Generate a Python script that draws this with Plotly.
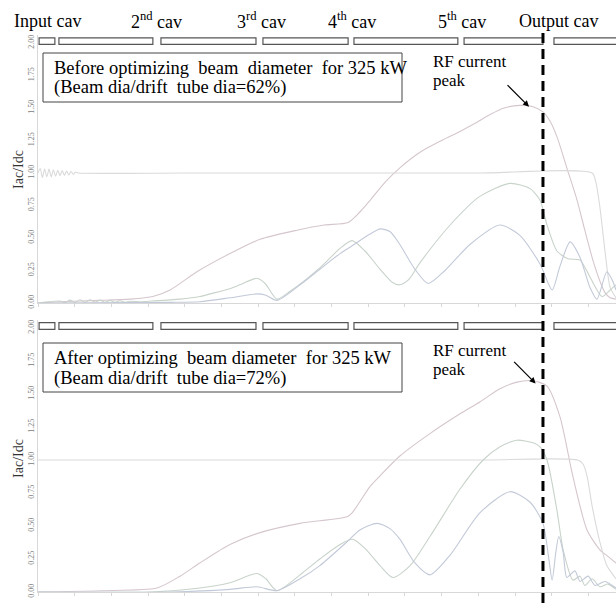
import plotly.graph_objects as go

# ---------------------------------------------------------------
# Normalised RF current Iac/Idc along the klystron interaction
# region (axial position in mm), before and after the beam
# diameter optimisation for 325 kW.
# ---------------------------------------------------------------

# --- before optimisation (beam dia / drift tube dia = 62 %) ---
pos_rf_before = [0, 6.0, 16.9, 25.1, 31.3, 36.0, 43.3, 52.3, 60.5, 70.6, 78.0, 84.5,
                 87.7, 90.5, 94.6, 98.6, 104.1, 110.0, 115.0, 119.0, 123.2, 127.0,
                 131.3, 134.9, 137.6, 139.5, 141.4, 144.1, 146.9, 149.0, 151.2,
                 153.1, 154.5, 155.9, 157.5]
rf_before = [0.0, 0.01, 0.02, 0.03, 0.05, 0.10, 0.24, 0.38, 0.49, 0.56, 0.60, 0.62,
             0.70, 0.79, 0.93, 1.04, 1.16, 1.25, 1.32, 1.38, 1.45, 1.50,
             1.52, 1.51, 1.47, 1.40, 1.28, 1.04, 0.79, 0.56, 0.33,
             0.17, 0.08, 0.04, 0.03]

pos_dc_before = [0, 0.6, 1.2, 1.8, 2.4, 3.0, 3.6, 4.2, 4.8, 5.4, 6.0, 6.6, 7.2, 7.8,
                 8.4, 9.0, 9.6, 10.2, 11.0, 40.0, 80.0, 120.0, 151.0, 152.0, 153.1,
                 154.5, 155.9, 157.5]
dc_before = [1.0, 1.035, 0.965, 1.03, 0.97, 1.03, 0.97, 1.025, 0.975, 1.02, 0.98,
             1.018, 0.982, 1.015, 0.985, 1.012, 0.99, 1.006, 1.0, 1.0, 1.0, 1.0,
             1.0, 0.93, 0.74, 0.40, 0.12, 0.04]

pos_h1_before = [0, 6.0, 7.4, 8.7, 10.1, 11.4, 12.8, 14.2, 15.5, 16.9, 18.3, 19.6,
                 21.0, 22.3, 23.7, 25.1, 28.0, 31.0, 38.7, 44.1, 46.9, 52.3, 55.0,
                 59.7, 61.9, 65.1, 68.7, 76.8, 82.3, 85.6, 89.1, 93.2, 96.5, 98.6,
                 101.0, 104.1, 112.3, 120.4, 128.6, 134.1, 136.8, 138.7, 141.4,
                 144.4, 147.7, 150.4, 153.7, 155.9, 157.5]
h1_before = [0.0, 0.015, 0.003, 0.022, 0.004, 0.025, 0.005, 0.025, 0.006, 0.022,
             0.006, 0.020, 0.006, 0.017, 0.006, 0.013, 0.010, 0.015, 0.03, 0.05,
             0.07, 0.11, 0.14, 0.19, 0.15, 0.03, 0.09, 0.27, 0.42, 0.48, 0.40,
             0.26, 0.16, 0.14, 0.18, 0.31, 0.60, 0.82, 0.92, 0.88, 0.79, 0.60,
             0.40, 0.34, 0.33, 0.20, 0.05, 0.10, 0.14]

pos_h2_before = [0, 25.0, 36.0, 44.1, 52.3, 59.7, 62.1, 65.1, 71.4, 76.8, 82.3, 85.6,
                 90.5, 93.3, 95.9, 98.6, 102.7, 106.3, 110.9, 117.7, 125.9, 131.3,
                 136.8, 140.1, 142.2, 145.0, 147.7, 150.4, 152.3, 155.0, 156.4,
                 157.5]
h2_before = [0.0, 0.003, 0.005, 0.01, 0.04, 0.07, 0.06, 0.02, 0.14, 0.26, 0.38, 0.44,
             0.53, 0.57, 0.55, 0.45, 0.26, 0.15, 0.25, 0.45, 0.60, 0.52,
             0.30, 0.10, 0.28, 0.47, 0.35, 0.12, 0.03, 0.24, 0.18, 0.10]

# --- after optimisation (beam dia / drift tube dia = 72 %) ---
pos_rf_after = [0, 16.9, 32.4, 38.7, 44.1, 52.3, 60.5, 71.4, 84.2, 85.6, 90.5, 93.2,
                98.6, 106.8, 115.0, 120.4, 125.9, 130.5, 134.9, 138.7, 142.2,
                145.8, 149.6, 153.1, 155.3, 157.5]
rf_after = [0.0, 0.01, 0.03, 0.12, 0.22, 0.36, 0.45, 0.52, 0.57, 0.60, 0.80, 0.88,
            1.03, 1.20, 1.35, 1.44, 1.54, 1.59, 1.60, 1.56, 1.33,
            0.87, 0.47, 0.32, 0.27, 0.22]

pos_dc_after = [0, 40.0, 80.0, 120.0, 147.1, 148.5, 149.6, 151.0, 153.1, 155.0, 157.5]
dc_after = [1.0, 1.0, 1.0, 1.0, 1.0, 0.97, 0.88, 0.65, 0.38, 0.20, 0.10]

pos_h1_after = [0, 30.5, 44.1, 52.3, 59.7, 62.1, 65.1, 71.4, 76.8, 82.3, 85.8, 89.1,
                93.2, 96.7, 101.4, 106.8, 115.0, 121.3, 125.9, 130.5, 134.9, 136.8,
                138.7, 141.4, 143.1, 145.8, 147.7, 149.0, 151.0, 153.1, 155.3, 157.5]
h1_after = [0.0, 0.0, 0.03, 0.07, 0.14, 0.10, 0.01, 0.13, 0.25, 0.36, 0.40, 0.33,
            0.20, 0.11, 0.20, 0.42, 0.78, 1.00, 1.10, 1.15, 1.13, 1.10,
            1.00, 0.62, 0.32, 0.09, 0.12, 0.05, 0.10, 0.04, 0.06, 0.02]

pos_h2_after = [0, 36.0, 52.3, 59.7, 65.1, 71.4, 76.8, 84.2, 87.7, 92.4, 95.9, 98.6,
                102.7, 106.8, 112.3, 120.4, 128.6, 134.1, 137.6, 139.2, 140.1, 141.1,
                141.9, 143.1, 144.1, 146.3, 147.7, 149.9, 151.8, 154.5, 157.5]
h2_after = [0.0, 0.0, 0.02, 0.04, 0.01, 0.10, 0.20, 0.38, 0.47, 0.52, 0.48, 0.40,
            0.22, 0.13, 0.28, 0.60, 0.76, 0.68, 0.52, 0.25, 0.09, 0.30,
            0.42, 0.30, 0.11, 0.16, 0.08, 0.12, 0.05, 0.08, 0.03]

# cavity / drift-tube segments drawn above each panel (mm)
segment_start = [0.3, 5.7, 33.5, 61.3, 86.1, 116.1, 140.6]
segment_end = [4.6, 31.3, 59.4, 84.5, 114.4, 137.6, 165.0]

# cavity labels and their axial positions (mm)
cavity_labels = ["Input cav", "2<sup>nd</sup> cav", "3<sup>rd</sup> cav",
                 "4<sup>th</sup> cav", "5<sup>th</sup> cav", "Output cav"]
cavity_label_pos = [2.7, 32.4, 61.0, 85.6, 115.5, 141.7]

output_gap_pos = 137.6          # output cavity gap (mm)
peak_before = (133.8, 1.51)     # RF current peak markers
peak_after = (135.6, 1.58)

y_ticks = [0.0, 0.25, 0.5, 0.75, 1.0, 1.25, 1.5, 1.75, 2.0]

# ---------------------------------------------------------------
W, H, LM = 616, 603, 38
SERIF = "Liberation Serif"
C_RF, C_DC, C_H1, C_H2 = "#d5c6ce", "#dadada", "#c8d3ca", "#c2c9d8"


def py(px_from_top):
    return 1 - px_from_top / H


def px_x(px):
    return (px - LM) / (W - LM)


fig = go.Figure()

panels = [
    ("x", "y", [(pos_rf_before, rf_before, C_RF), (pos_dc_before, dc_before, C_DC),
                (pos_h1_before, h1_before, C_H1), (pos_h2_before, h2_before, C_H2)]),
    ("x2", "y2", [(pos_rf_after, rf_after, C_RF), (pos_dc_after, dc_after, C_DC),
                  (pos_h1_after, h1_after, C_H1), (pos_h2_after, h2_after, C_H2)]),
]
for xa, ya, series in panels:
    for xs, ys, col in series:
        fig.add_trace(go.Scatter(
            x=xs, y=ys, mode="lines", xaxis=xa, yaxis=ya,
            line=dict(color=col, width=1.1, shape="spline", smoothing=0.7),
            hoverinfo="skip", showlegend=False))

axis_x = dict(range=[0, 157.5], domain=[0, 1], showgrid=False, zeroline=False,
              showline=True, linecolor="#d8d8d8", linewidth=1,
              ticks="outside", ticklen=3, tickcolor="#d8d8d8", dtick=10, tick0=0,
              showticklabels=False)
axis_y = dict(range=[0, 2.06], showgrid=False, zeroline=False, showline=True,
              linecolor="#d8d8d8", linewidth=1, tickvals=y_ticks, tickformat=".2f",
              tickangle=-90, ticks="", automargin=False,
              tickfont=dict(family=SERIF, size=8, color="#7a7a7a"))

fig.update_layout(
    width=W, height=H, margin=dict(l=LM, r=0, t=0, b=0),
    paper_bgcolor="white", plot_bgcolor="white",
    xaxis=dict(axis_x, anchor="y"),
    yaxis=dict(axis_y, anchor="x", domain=[py(303), py(303 - 2.06 * 130)]),
    xaxis2=dict(axis_x, anchor="y2"),
    yaxis2=dict(axis_y, anchor="x2", domain=[py(592), py(592 - 2.06 * 132)]),
)

shapes = []
# cavity segment outlines
for yr in ("y", "y2"):
    for s, e in zip(segment_start, segment_end):
        shapes.append(dict(type="rect", xref="x" if yr == "y" else "x2", yref=yr,
                           x0=s, x1=e, y0=1.99, y1=2.04,
                           line=dict(color="#555555", width=1.2)))
# annotation boxes
for top, bot in ((53, 102), (343, 392)):
    shapes.append(dict(type="rect", xref="paper", yref="paper", layer="above",
                       x0=px_x(43), x1=px_x(402), y0=py(bot), y1=py(top),
                       fillcolor="white", line=dict(color="#444444", width=1)))
# output gap marker
shapes.append(dict(type="line", xref="x", yref="paper", x0=output_gap_pos,
                   x1=output_gap_pos, y0=0, y1=py(29),
                   line=dict(color="black", width=3, dash="10px,6px")))
fig.update_layout(shapes=shapes)

ann = []
for lab, xp in zip(cavity_labels, cavity_label_pos):
    ann.append(dict(text=lab, x=xp, xref="x", y=py(21), yref="paper",
                    showarrow=False, xanchor="center", yanchor="middle",
                    font=dict(family=SERIF, size=18, color="black")))

box_text = [
    ("Before optimizing  beam  diameter  for 325 kW", 68),
    ("(Beam dia/drift  tube dia=62%)", 87),
    ("After optimizing  beam diameter  for 325 kW", 358),
    ("(Beam dia/drift  tube dia=72%)", 378),
]
for txt, yy in box_text:
    ann.append(dict(text=txt, x=px_x(52), xref="paper", y=py(yy), yref="paper",
                    showarrow=False, xanchor="left", yanchor="middle",
                    font=dict(family=SERIF, size=18.5, color="black")))

for y1, y2 in ((62, 80), (350, 369)):
    ann.append(dict(text="RF current", x=px_x(431), xref="paper", y=py(y1),
                    yref="paper", showarrow=False, xanchor="left", yanchor="middle",
                    font=dict(family=SERIF, size=17, color="black")))
    ann.append(dict(text="peak", x=px_x(431), xref="paper", y=py(y2),
                    yref="paper", showarrow=False, xanchor="left", yanchor="middle",
                    font=dict(family=SERIF, size=17, color="black")))

for (xp, yp), xa, ya in ((peak_before, "x", "y"), (peak_after, "x2", "y2")):
    ann.append(dict(text="", x=xp, y=yp, xref=xa, yref=ya, showarrow=True,
                    ax=-23, ay=-23, arrowhead=2, arrowsize=1, arrowwidth=1.2,
                    arrowcolor="black", standoff=0))

for yy in (170, 459):
    ann.append(dict(text="Iac/Idc", x=px_x(18), xref="paper", y=py(yy),
                    yref="paper", showarrow=False, textangle=-90,
                    xanchor="center", yanchor="middle",
                    font=dict(family=SERIF, size=14, color="#333333")))

fig.update_layout(annotations=ann)
fig.write_html("out.html")
